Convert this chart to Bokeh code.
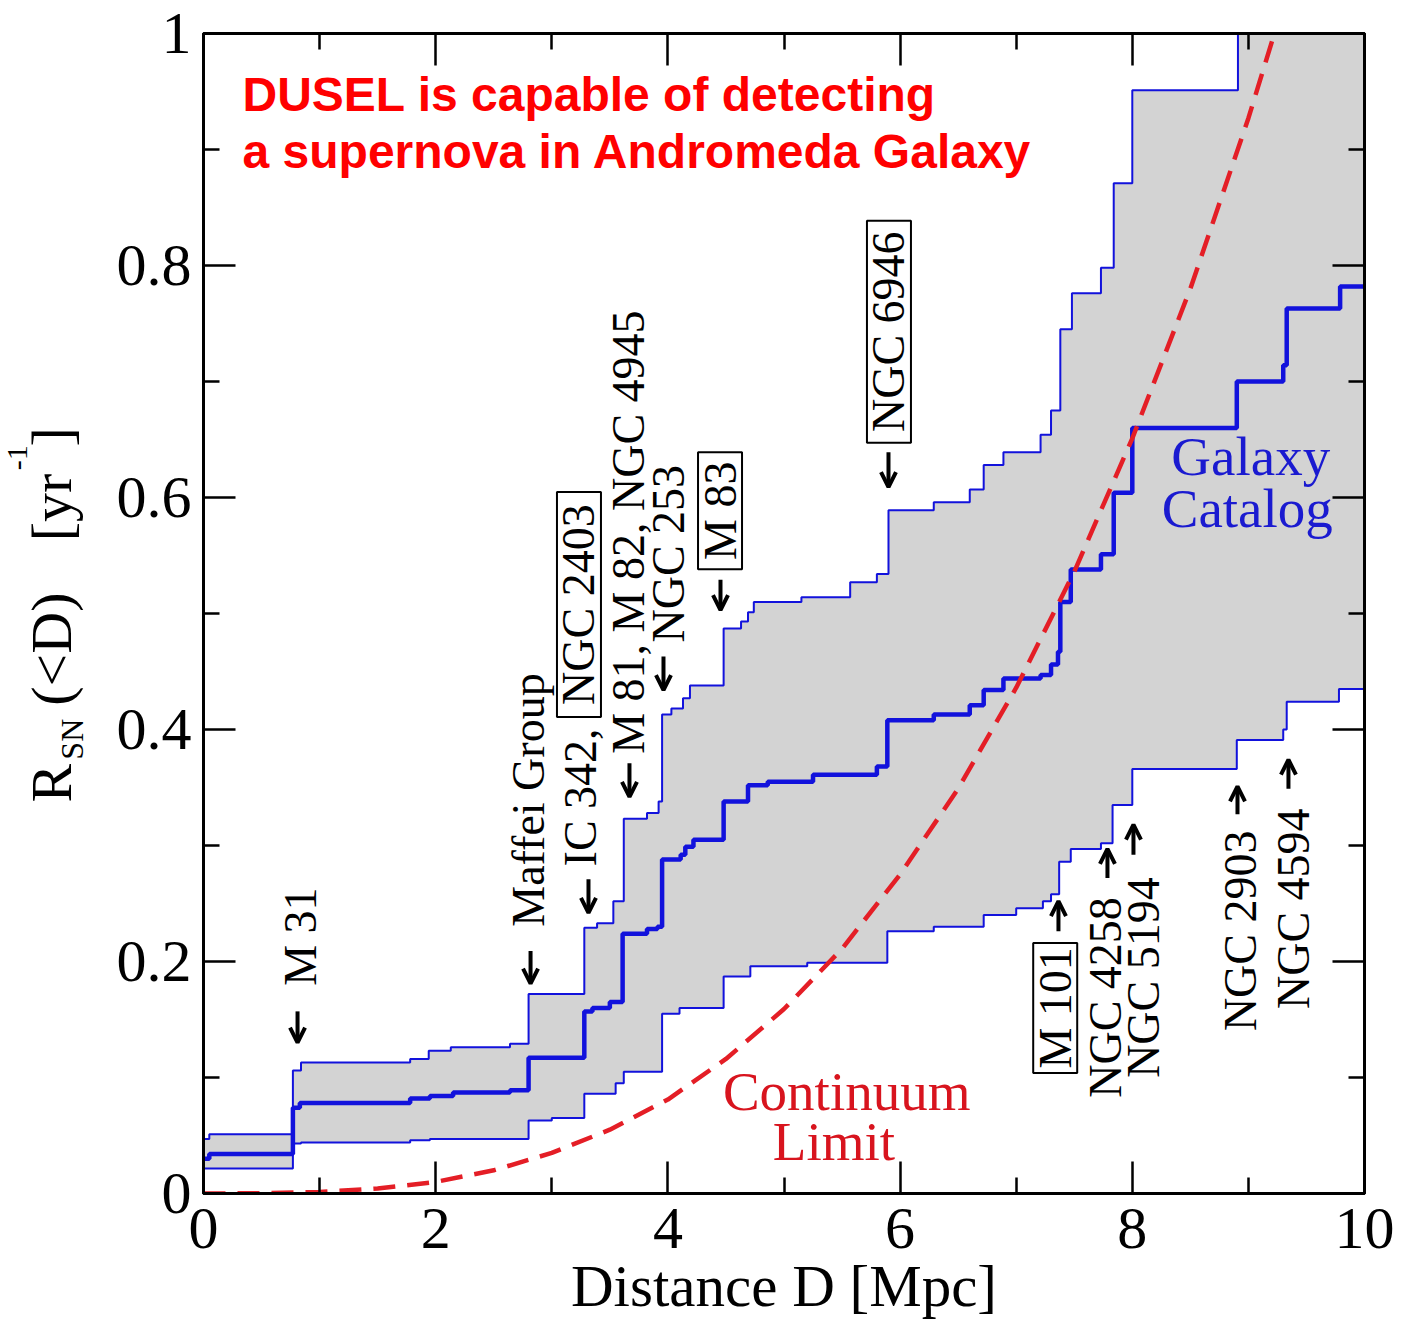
import math

from bokeh.core.properties import value
from bokeh.embed import file_html
from bokeh.layouts import row
from bokeh.models import Arrow, FixedTicker, Label, LinearAxis, OpenHead, Range1d
from bokeh.plotting import figure
from bokeh.resources import INLINE

# ---------------------------------------------------------------------------
# Cumulative supernova rate R_SN(<D) from the galaxy catalog (step curves).
# Each value holds from its distance up to the next distance.
# ---------------------------------------------------------------------------
upper_D = [0, 0.05, 0.77, 0.84, 1.78, 1.94, 2.13, 2.64, 2.8, 3.28, 3.39, 3.53,
           3.62, 3.82, 3.92, 3.95, 4.03, 4.13, 4.19, 4.48, 4.63, 4.69, 4.74,
           5.15, 5.57, 5.8, 5.9, 6.29, 6.6, 6.72, 6.89, 7.21, 7.3, 7.38, 7.48,
           7.73, 7.84, 8.0, 8.91, 10]
upper_R = [0.047, 0.051, 0.106, 0.113, 0.116, 0.123, 0.126, 0.129, 0.172,
           0.229, 0.233, 0.252, 0.323, 0.328, 0.338, 0.413, 0.418, 0.427,
           0.438, 0.487, 0.493, 0.501, 0.51, 0.514, 0.527, 0.534, 0.589,
           0.596, 0.607, 0.628, 0.639, 0.654, 0.675, 0.745, 0.776, 0.798,
           0.871, 0.951, 1.05, 1.05]

middle_D = [0, 0.05, 0.77, 0.83, 1.78, 1.95, 2.15, 2.64, 2.8, 3.28, 3.35, 3.5,
            3.61, 3.82, 3.91, 3.95, 4.11, 4.15, 4.22, 4.48, 4.69, 4.86, 5.25,
            5.8, 5.89, 6.29, 6.6, 6.72, 6.89, 7.21, 7.3, 7.36, 7.38, 7.47,
            7.73, 7.84, 8.0, 8.9, 9.3, 9.33, 9.79, 10]
middle_R = [0.030, 0.034, 0.074, 0.078, 0.082, 0.084, 0.087, 0.089, 0.117,
            0.157, 0.160, 0.165, 0.224, 0.228, 0.230, 0.288, 0.292, 0.299,
            0.305, 0.338, 0.352, 0.355, 0.361, 0.368, 0.408, 0.413, 0.421,
            0.434, 0.444, 0.447, 0.456, 0.467, 0.51, 0.538, 0.551, 0.604,
            0.66, 0.70, 0.714, 0.763, 0.782, 0.782]

lower_D = [0, 0.77, 0.84, 1.78, 1.95, 2.8, 3.0, 3.28, 3.55, 3.62, 3.95, 4.1,
           4.48, 4.71, 5.2, 5.89, 6.29, 6.72, 7.0, 7.23, 7.3, 7.37, 7.47, 7.73,
           7.83, 8.0, 8.9, 9.3, 9.33, 9.78, 10]
lower_R = [0.0215, 0.043, 0.044, 0.046, 0.047, 0.063, 0.065, 0.086, 0.095,
           0.105, 0.155, 0.160, 0.187, 0.196, 0.199, 0.226, 0.230, 0.240,
           0.246, 0.252, 0.258, 0.286, 0.297, 0.302, 0.335, 0.366, 0.391,
           0.400, 0.424, 0.435, 0.435]

# Continuum limit
cont_D = [0, 0.5, 1, 1.5, 2, 2.5, 3, 3.5, 4, 4.5, 5, 5.5, 6, 6.5, 7, 7.5, 8,
          8.5, 9, 9.5]
cont_R = [0, 0.0002, 0.0013, 0.0043, 0.010, 0.020, 0.035, 0.055, 0.081, 0.116,
          0.159, 0.211, 0.275, 0.349, 0.436, 0.536, 0.651, 0.780, 0.927, 1.09]

# Nearby galaxies marked along the curves (plain and boxed names)
plain_names = ["M 31", "Maffei Group", "IC 342,", "M 81, M 82, NGC 4945",
               "NGC 253", "NGC 4258", "NGC 5194", "NGC 2903", "NGC 4594"]
boxed_names = ["NGC 2403", "M 83", "NGC 6946", "M 101"]

x_ticks = [0, 2, 4, 6, 8, 10]
x_minor = [1, 3, 5, 7, 9]
y_ticks = [0, 0.2, 0.4, 0.6, 0.8, 1.0]
y_minor = [0.1, 0.3, 0.5, 0.7, 0.9]
y_tick_labels = ["0", "0.2", "0.4", "0.6", "0.8", "1"]

SERIF = "Liberation Serif"
BLUE = "#1212dc"
RED = "#e41e26"
TOP, BOTTOM = 33, 133


def step_path(d, r):
    xs, ys = [], []
    for i in range(len(d) - 1):
        xs += [d[i], d[i + 1]]
        ys += [r[i], r[i]]
    return xs, ys


# ---------------------------------------------------------------- main panel
yr = Range1d(0, 1)
p = figure(width=1303, height=1326, output_backend="svg", toolbar_location=None,
           x_range=Range1d(0, 10), y_range=yr,
           min_border_left=103, min_border_right=39, min_border_top=TOP,
           min_border_bottom=BOTTOM)
p.grid.visible = False
p.outline_line_color = "black"
p.outline_line_width = 3
p.background_fill_color = "white"
p.border_fill_color = "white"

# band between the bounding curves
ux, uy = step_path(upper_D, upper_R)
lx, ly = step_path(lower_D, lower_R)
mx, my = step_path(middle_D, middle_R)
p.patch(ux + lx[::-1], uy + ly[::-1], fill_color="#d3d3d3", line_color=None)
p.line(ux, uy, line_color=BLUE, line_width=2)
p.line(lx, ly, line_color=BLUE, line_width=2)
p.line(mx, my, line_color=BLUE, line_width=4.5)

p.line(cont_D, cont_R, line_color=RED, line_width=4.5, line_dash="22 12")

# axes on all four sides, ticks pointing inward
xt = FixedTicker(ticks=x_ticks, minor_ticks=x_minor)
yt = FixedTicker(ticks=y_ticks, minor_ticks=y_minor)
p.below[0].ticker = xt
p.left[0].ticker = yt
p.left[0].major_label_overrides = {t: s for t, s in zip(y_ticks, y_tick_labels)}
top_axis = LinearAxis(ticker=xt)
right_axis = LinearAxis(ticker=yt)
p.add_layout(top_axis, "above")
p.add_layout(right_axis, "right")
for ax in [p.below[0], p.left[0], top_axis, right_axis]:
    ax.axis_line_width = 3
    ax.axis_line_color = "black"
    ax.major_tick_in = 32
    ax.major_tick_out = 0
    ax.minor_tick_in = 16
    ax.minor_tick_out = 0
    ax.major_tick_line_width = 2.5
    ax.minor_tick_line_width = 2.5
    ax.major_label_text_font = SERIF
    ax.major_label_text_font_size = "60px"
    ax.major_label_text_color = "black"
for ax in [top_axis, right_axis]:
    ax.major_label_text_font_size = "1px"
    ax.major_label_text_color = None
    ax.major_label_standoff = 0
p.left[0].major_label_standoff = 12

xax = p.below[0]
xax.major_label_standoff = 15
xax.axis_label = "Distance D [Mpc]"
xax.axis_label_text_font = SERIF
xax.axis_label_text_font_size = "59px"
xax.axis_label_text_font_style = "normal"
xax.axis_label_text_color = "black"
xax.axis_label_standoff = 2

# headline
for txt, yy in [("DUSEL is capable of detecting", 0.9476),
                ("a supernova in Andromeda Galaxy", 0.8985)]:
    p.add_layout(Label(x=0.336, y=yy, text=txt, text_font="Liberation Sans",
                       text_font_style="bold", text_font_size="48px",
                       text_color="#ff0000", text_baseline="alphabetic"))

# curve captions
for txt, xx, yy in [("Galaxy", 9.02, 0.6354), ("Catalog", 8.99, 0.5907)]:
    p.add_layout(Label(x=xx, y=yy, text=txt, text_font=SERIF, text_font_size="55px",
                       text_color="#1a1ad0", text_align="center",
                       text_baseline="alphabetic"))
for txt, xx, yy in [("Continuum", 5.54, 0.0877), ("Limit", 5.43, 0.0447)]:
    p.add_layout(Label(x=xx, y=yy, text=txt, text_font=SERIF, text_font_size="55px",
                       text_color="#d8141e", text_align="center",
                       text_baseline="alphabetic"))

# galaxy names, rotated to read upward
plain_pos = [(0.835, 0.179), (2.80, 0.230), (3.247, 0.282), (3.66, 0.379),
             (4.005, 0.475), (7.769, 0.0825), (8.096, 0.0997), (8.932, 0.140),
             (9.389, 0.159)]
for name, (xx, yy) in zip(plain_names, plain_pos):
    p.add_layout(Label(x=xx, y=yy, text=name, angle=math.pi / 2, text_font=SERIF,
                       text_font_size="46px", text_color="black",
                       text_align="left", text_baseline="middle"))

boxed_pos = [(3.234, 0.5077), (4.449, 0.5886), (5.904, 0.7429), (7.336, 0.160)]
box_len = [225, 117, 222, 130]
p.rect([b[0] for b in boxed_pos], [b[1] for b in boxed_pos], width=44,
       height=box_len, width_units="screen", height_units="screen",
       fill_color=None, line_color="black", line_width=2)
for name, (xx, yy) in zip(boxed_names, boxed_pos):
    p.add_layout(Label(x=xx, y=yy, text=name, angle=math.pi / 2, text_font=SERIF,
                       text_font_size="46px", text_color="black",
                       text_align="center", text_baseline="middle"))

down_arrows = [(0.81, 0.157, 0.130), (2.817, 0.209, 0.181), (3.316, 0.271, 0.242),
               (3.669, 0.371, 0.342), (3.962, 0.463, 0.434), (4.453, 0.529, 0.503),
               (5.90, 0.639, 0.609)]
up_arrows = [(7.364, 0.226, 0.252), (7.786, 0.272, 0.297), (8.01, 0.292, 0.318),
             (8.906, 0.327, 0.351), (9.345, 0.349, 0.374)]
for xx, y0, y1 in down_arrows + up_arrows:
    p.add_layout(Arrow(x_start=xx, y_start=y0, x_end=xx, y_end=y1,
                       line_width=4, line_color="black",
                       end=OpenHead(size=15, line_width=4, line_color="black")))

# ------------------------------------------------- y-axis title (left strip)
# shares the vertical range and borders of the main panel, so the pieces of
# the title are placed in the same R units as the plot
ylab = figure(width=100, height=1326, output_backend="svg", toolbar_location=None,
              title=None, x_range=Range1d(0, 100), y_range=yr,
              x_axis_location=None, y_axis_location=None,
              min_border_left=0, min_border_right=0, min_border_top=TOP,
              min_border_bottom=BOTTOM)
ylab.grid.visible = False
ylab.outline_line_color = None
ylab_parts = [("R", 51, 0.337, "58px"), ("SN", 71, 0.374, "32px"),
              ("(<D)", 51, 0.4205, "58px"), ("[yr", 51, 0.5623, "58px"),
              ("-1", 17, 0.6234, "30px"), ("]", 51, 0.644, "58px")]
for txt, xx, yy, fs in ylab_parts:
    ylab.text(x=[xx], y=[yy], text=[txt], angle=math.pi / 2,
              text_font=value(SERIF), text_font_size=value(fs),
              text_align="left", text_baseline="middle", text_color="black")

layout = row(ylab, p, spacing=0)
open("out.html", "w").write(file_html(layout, INLINE))
